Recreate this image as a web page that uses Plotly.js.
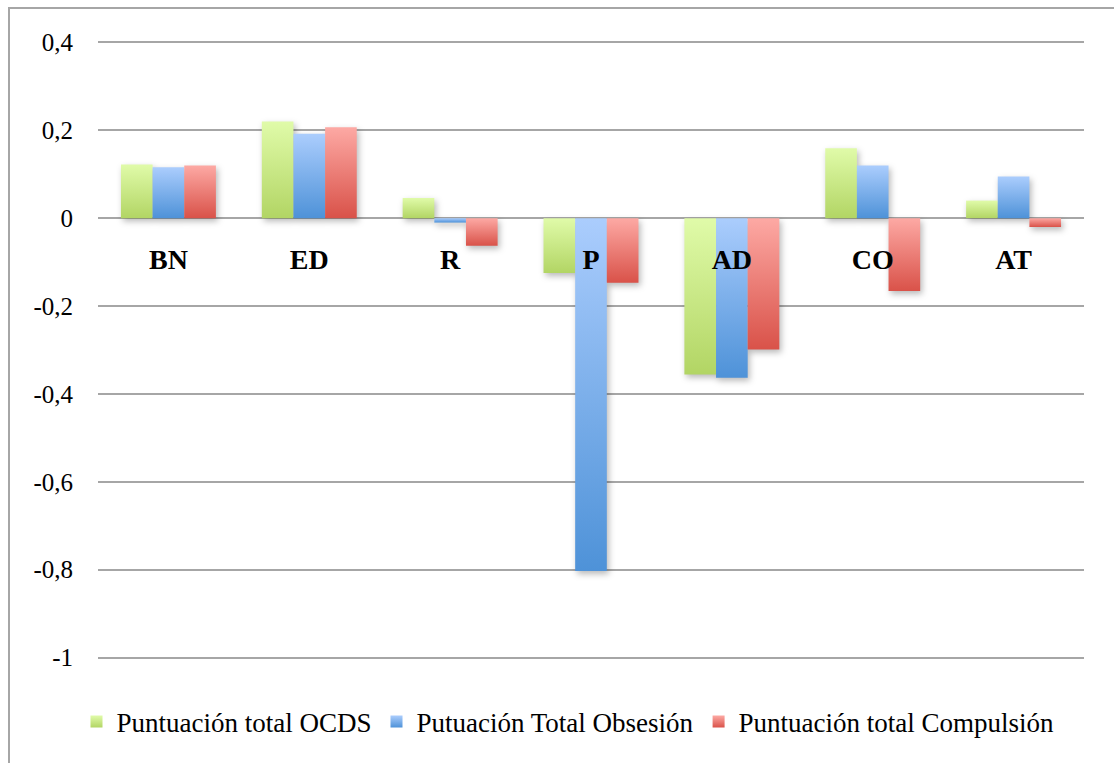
<!DOCTYPE html>
<html>
<head>
<meta charset="utf-8">
<script src="https://cdn.plot.ly/plotly-3.0.1.min.js"></script>
<style>
  html, body { margin: 0; padding: 0; background: #ffffff; }
  #chart { width: 1114px; height: 763px; }
</style>
</head>
<body>
<div id="chart"></div>
<script>
// ---- data ----
var categories = ["BN", "ED", "R", "P", "AD", "CO", "AT"];
var seriesNames = ["Puntuación total OCDS", "Putuación Total Obsesión", "Puntuación total Compulsión"];
var ocds       = [0.122, 0.220, 0.046, -0.125, -0.356, 0.159, 0.040];
var obsesion   = [0.116, 0.192, -0.010, -0.803, -0.363, 0.120, 0.095];
var compulsion = [0.120, 0.207, -0.063, -0.147, -0.299, -0.166, -0.020];
var yTickVals  = [-1, -0.8, -0.6, -0.4, -0.2, 0, 0.2, 0.4];
var yTickText  = ["-1", "-0,8", "-0,6", "-0,4", "-0,2", "0", "0,2", "0,4"];

var colors = ["#c8e68a", "#7db2ec", "#ec807a"];
var gradients = [
  ["#e0fba9", "#b2d564"],
  ["#abcdfd", "#4e92d8"],
  ["#fda9a4", "#d95249"]
];

var seriesValues = [ocds, obsesion, compulsion];
var traces = seriesValues.map(function (vals, i) {
  return {
    type: "bar",
    name: seriesNames[i],
    x: categories,
    y: vals,
    marker: { color: colors[i], line: { width: 0 } },
    hoverinfo: "x+y+name"
  };
});

var serif = "'Liberation Serif', 'Times New Roman', serif";
var gridColor = "#a6a6a6";
var yMin = -1.01, yMax = 0.41;
var mT = 38, mB = 101, mL = 98, mR = 30;
var plotW = 1114 - mL - mR, plotH = 763 - mT - mB;
function px2paperX(px) { return (px - mL) / plotW; }
function px2paperY(py) { return (763 - mB - py) / plotH; }

var layout = {
  width: 1114,
  height: 763,
  paper_bgcolor: "#ffffff",
  plot_bgcolor: "#ffffff",
  margin: { l: mL, r: mR, t: mT, b: mB },
  barmode: "group",
  bargap: 0.326,
  bargroupgap: 0,
  showlegend: true,
  legend: {
    orientation: "h",
    x: px2paperX(568),
    xanchor: "center",
    y: px2paperY(722),
    yanchor: "middle",
    font: { family: serif, size: 27, color: "#000000" },
    itemwidth: 30,
    tracegroupgap: 0,
    traceorder: "normal"
  },
  xaxis: {
    type: "category",
    anchor: "free",
    position: (0 - yMin) / (yMax - yMin),
    showline: false,
    showgrid: false,
    zeroline: false,
    ticks: "",
    ticklabelstandoff: 22,
    tickfont: { family: serif, size: 28, color: "#000000", weight: "bold" }
  },
  yaxis: {
    range: [yMin, yMax],
    tickvals: yTickVals,
    ticktext: yTickText,
    showgrid: true,
    gridcolor: gridColor,
    gridwidth: 2,
    zeroline: true,
    zerolinecolor: gridColor,
    zerolinewidth: 2,
    showline: false,
    ticks: "",
    ticklabelstandoff: 24,
    tickfont: { family: serif, size: 25, color: "#000000" }
  },
  shapes: [{
    type: "rect",
    xref: "paper", yref: "paper",
    x0: px2paperX(9), x1: px2paperX(1125),
    y0: px2paperY(775), y1: px2paperY(8),
    line: { color: "#a6a6a6", width: 2 },
    fillcolor: "rgba(0,0,0,0)",
    layer: "below"
  }]
};

Plotly.newPlot("chart", traces, layout, { displayModeBar: false, staticPlot: true }).then(function (gd) {
  var svg = gd.querySelector("svg.main-svg");
  var defs = svg.querySelector("defs");
  var ns = "http://www.w3.org/2000/svg";
  gradients.forEach(function (g, i) {
    var lg = document.createElementNS(ns, "linearGradient");
    lg.setAttribute("id", "barGrad" + i);
    lg.setAttribute("x1", "0"); lg.setAttribute("y1", "0");
    lg.setAttribute("x2", "0"); lg.setAttribute("y2", "1");
    var s1 = document.createElementNS(ns, "stop");
    s1.setAttribute("offset", "0"); s1.setAttribute("stop-color", g[0]);
    var s2 = document.createElementNS(ns, "stop");
    s2.setAttribute("offset", "1"); s2.setAttribute("stop-color", g[1]);
    lg.appendChild(s1); lg.appendChild(s2);
    defs.appendChild(lg);
  });
  var barLayer = gd.querySelector(".barlayer");
  if (barLayer) barLayer.style.filter = "drop-shadow(2px 3px 3px rgba(0,0,0,0.28))";
  var barTraces = gd.querySelectorAll(".barlayer .trace");
  barTraces.forEach(function (t, i) {
    t.querySelectorAll("path").forEach(function (p) { p.style.fill = "url(#barGrad" + i + ")"; });
  });
  var legTraces = gd.querySelectorAll(".legend .traces");
  legTraces.forEach(function (t, i) {
    t.querySelectorAll(".legendpoints path").forEach(function (p) { p.style.fill = "url(#barGrad" + i + ")"; });
  });
});
</script>
</body>
</html>
